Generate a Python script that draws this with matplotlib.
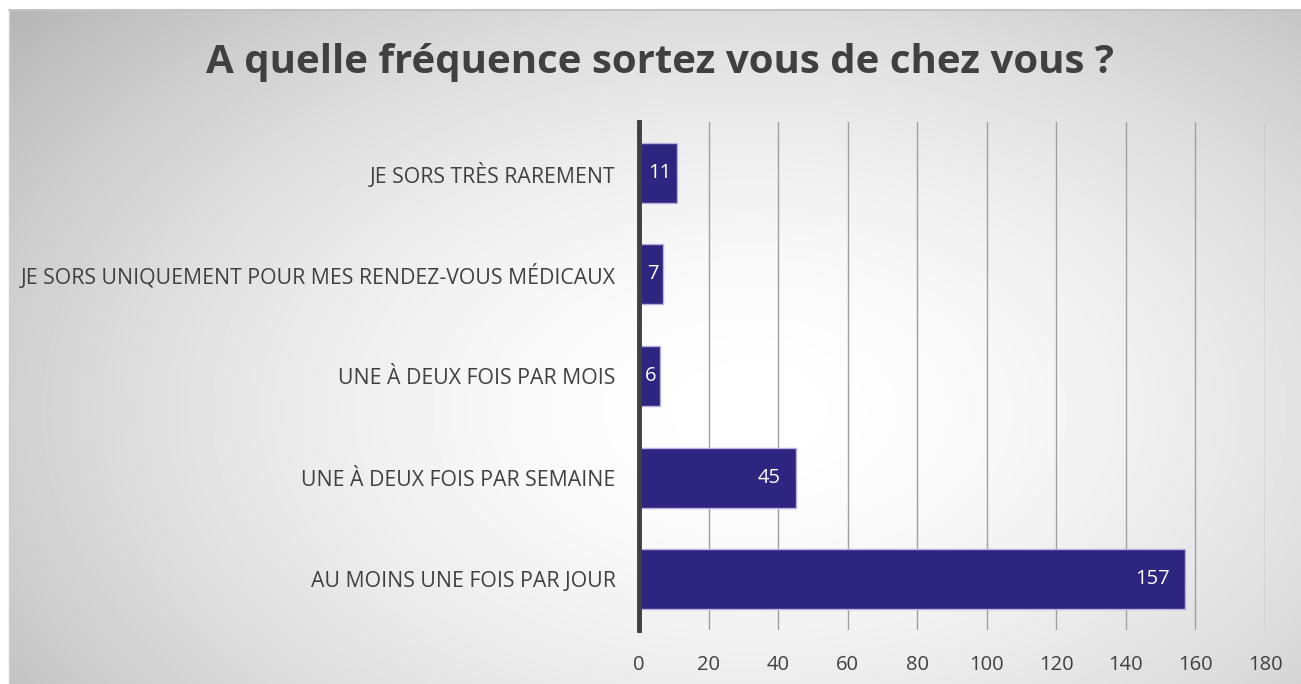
import numpy as np
import matplotlib.pyplot as plt

categories = ["AU MOINS UNE FOIS PAR JOUR",
              "UNE À DEUX FOIS PAR SEMAINE",
              "UNE À DEUX FOIS PAR MOIS",
              "JE SORS UNIQUEMENT POUR MES RENDEZ-VOUS MÉDICAUX",
              "JE SORS TRÈS RAREMENT"]
values = [157, 45, 6, 7, 11]
xticks = [0, 20, 40, 60, 80, 100, 120, 140, 160, 180]
title = "A quelle fréquence sortez vous de chez vous ?"

W, H = 1301, 684
plt.rcParams['font.family'] = ['Open Sans', 'DejaVu Sans']

fig = plt.figure(figsize=(W / 100, H / 100), dpi=100)
fig.patch.set_facecolor('white')

# radial gradient background of the chart box
bg = fig.add_axes([9 / W, 0, 1 - 9 / W, 1 - 10 / H], zorder=-2)
yy, xx = np.mgrid[0:674, 0:1292]
r = np.hypot((xx - 740) / 760, (yy - 400) / 480)
shade = np.clip(1 - 0.19 * r ** 1.7, 0, 1)
bg.imshow(shade, cmap='gray', vmin=0, vmax=1, aspect='auto',
          extent=[0, 1, 0, 1], interpolation='bilinear')
bg.set_xlim(0, 1)
bg.set_ylim(0, 1)
bg.axis('off')
fig.add_artist(plt.Line2D([9 / W, 1], [1 - 10 / H, 1 - 10 / H],
                          transform=fig.transFigure, color='#c4c4c4', lw=1.5))
fig.add_artist(plt.Line2D([9 / W, 9 / W], [0, 1 - 10 / H],
                          transform=fig.transFigure, color='#d0d0d0', lw=1))

ax = fig.add_axes([639 / W, 1 - 630 / H, 626 / W, 508 / H])
ax.set_facecolor('none')
y = np.arange(len(categories))
bars = ax.barh(y, values, height=0.59, color='#2e2580',
               edgecolor='#b8b0e0', linewidth=1, zorder=3)
for v, yi in zip(values, y):
    if v < 15:
        ax.annotate(str(v), (v / 2, yi), xytext=(1, 0), textcoords='offset points',
                    ha='center', va='center', color='white', fontsize=14.5, zorder=4)
    else:
        ax.annotate(str(v), (v, yi), xytext=(-11, 0), textcoords='offset points',
                    ha='right', va='center', color='white', fontsize=14.5, zorder=4)

ax.set_xlim(0, 180)
ax.set_ylim(-0.5, len(categories) - 0.5)
ax.set_xticks(xticks)
ax.set_xticklabels([str(t) for t in xticks], fontsize=14.5, color='#404040')
ax.set_yticks(y)
ax.set_yticklabels(categories, fontsize=15.3, color='#404040')
ax.tick_params(axis='x', length=0, pad=18)
ax.tick_params(axis='y', length=0, pad=17)
ax.grid(axis='x', color='#a0a0a0', linewidth=1, zorder=0)
for s in ['top', 'right', 'bottom']:
    ax.spines[s].set_visible(False)
ax.spines['left'].set_color('#404040')
ax.spines['left'].set_linewidth(3.5)
ax.spines['left'].set_zorder(5)

fig.text(660 / W, 1 - 62 / H, title, ha='center', va='center',
         fontsize=29, fontweight='bold', color='#404040')

fig.savefig('out.png', dpi=100)
